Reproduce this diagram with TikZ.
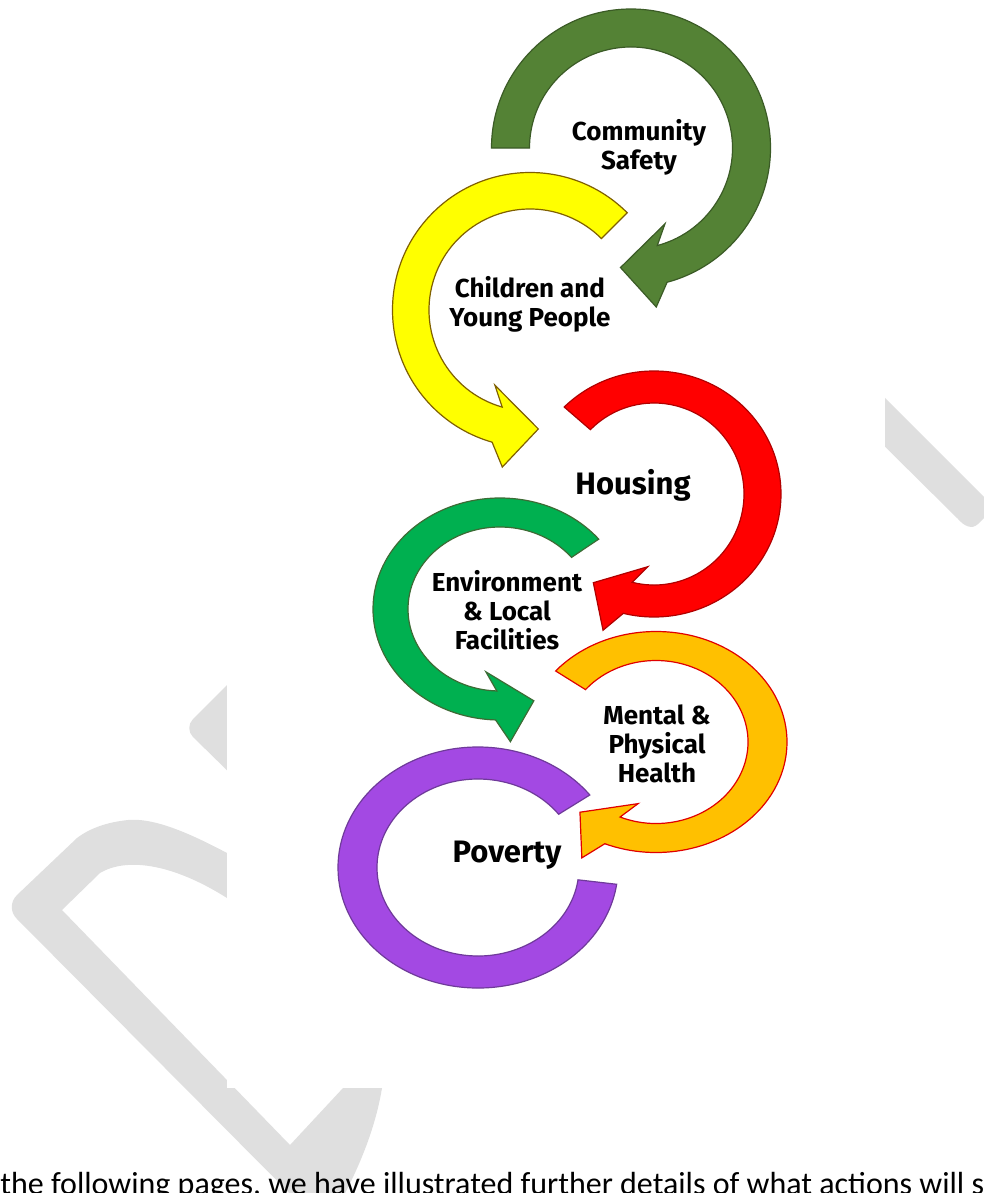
\documentclass[tikz,border=0pt]{standalone}
\usepackage{fontspec}
\setmainfont{Carlito}
\newfontfamily\tagfont{Fira Sans}
\definecolor{safetyfill}{HTML}{548235}
\definecolor{safetyline}{HTML}{3B5B26}
\definecolor{childfill}{HTML}{FFFF00}
\definecolor{childline}{HTML}{806000}
\definecolor{housefill}{HTML}{FF0000}
\definecolor{houseline}{HTML}{B00000}
\definecolor{envfill}{HTML}{00B050}
\definecolor{envline}{HTML}{3D6B35}
\definecolor{healthfill}{HTML}{FFC000}
\definecolor{healthline}{HTML}{E00000}
\definecolor{povfill}{HTML}{A349E3}
\definecolor{povline}{HTML}{6F3A9A}
\definecolor{wmgrey}{HTML}{DFDFDF}
\begin{document}
\begin{tikzpicture}[x=0.5pt,y=-0.5pt,
    tag/.style={font=\tagfont\bfseries\fontsize{13}{14.5}\selectfont,align=center,inner sep=0pt},
    bigtag/.style={tag,font=\tagfont\bfseries\fontsize{15.5}{18}\selectfont}]
  \clip (0,0) rectangle (984,1193);
  % watermark behind the picture
  \fill[wmgrey] (240,672) -- (193,719) .. controls (188,724) and (188,732) .. (193,737) -- (240,783) -- cycle;
  \fill[wmgrey,even odd rule] (227,853) .. controls (180,828) and (150,818) .. (128,820)
      .. controls (108,822) and (90,828) .. (77,838) -- (17,895) .. controls (10,902) and (10,912) .. (17,919)
      -- (316,1220) -- (330,1220) .. controls (360,1170) and (376,1125) .. (382,1088) -- (400,1000) -- (260,840) -- cycle
    (62,910) -- (100,873) .. controls (125,858) and (170,862) .. (227,898) -- (330,980) -- (343,1088) -- (290,1145) -- cycle;
  \fill[wmgrey] (860,422) -- (958,519) .. controls (964,526) and (972,530) .. (978,524) -- (992,510) -- (992,505) -- (860,373) -- cycle;
  \fill[white] (227,-5) rectangle (885,1088);
  % ring arrows
  \foreach \fc/\bc/\cx/\cy/\ox/\oy/\ix/\iy/\sa/\se/\turn in {
      safetyfill/safetyline/631/148/139.5/139/101.5/101/180/435/1,
      childfill/childline/530/310/137.5/137.5/101/101/315/106/-1,
      housefill/houseline/654/494/127/123/90/91/225/464/1,
      envfill/envline/500/609/127/111/92/82/321/92/-1,
      healthfill/healthline/656/742/131/110.5/92/81.5/220/473/1}
  {
    \pgfmathsetmacro\ob{\se+6*\turn}
    \pgfmathsetmacro\tp{\se+20*\turn}
    \pgfmathsetmacro\ib{\se-9*\turn}
    \pgfmathsetmacro\mx{(\ox+\ix)/2}
    \pgfmathsetmacro\my{(\oy+\iy)/2}
    \filldraw[fill=\fc,draw=\bc,line width=0.6pt,shift={(\cx,\cy)}]
      ({\ox*cos(\sa)},{\oy*sin(\sa)}) arc[start angle=\sa,end angle=\se,x radius=\ox,y radius=\oy]
      -- ({(\ox+22)*cos(\ob)},{(\oy+22)*sin(\ob)}) -- ({\mx*cos(\tp)},{\my*sin(\tp)})
      -- ({(\ix-18)*cos(\ib)},{(\iy-18)*sin(\ib)})
      -- ({\ix*cos(\se)},{\iy*sin(\se)}) arc[start angle=\se,end angle=\sa,x radius=\ix,y radius=\iy] -- cycle;
  }
  \filldraw[fill=povfill,draw=povline,line width=0.6pt,shift={(478,867.5)}]
    ({140*cos(-37)},{120.5*sin(-37)}) arc[start angle=-37,end angle=-352,x radius=140,y radius=120.5]
    -- ({101*cos(-352)},{88.5*sin(-352)}) arc[start angle=-352,end angle=-37,x radius=101,y radius=88.5] -- cycle;
  % labels
  \node[tag] (community) at (639,147) {Community\\Safety};
  \node[tag] (children) at (530,304) {Children and\\Young People};
  \node[bigtag] (housing) at (633,485) {Housing};
  \node[tag] (environment) at (507,610) {Environment\\\& Local\\Facilities};
  \node[tag] (health) at (657,744) {Mental \&\\Physical\\Health};
  \node[bigtag] (poverty) at (507,855) {Poverty};
  \node[anchor=base west,inner sep=0pt,font=\fontsize{16}{19}\selectfont] (intro) at (0,1194)
    {the following pages, we have illustrated further details of what actions will s};
\end{tikzpicture}
\end{document}
